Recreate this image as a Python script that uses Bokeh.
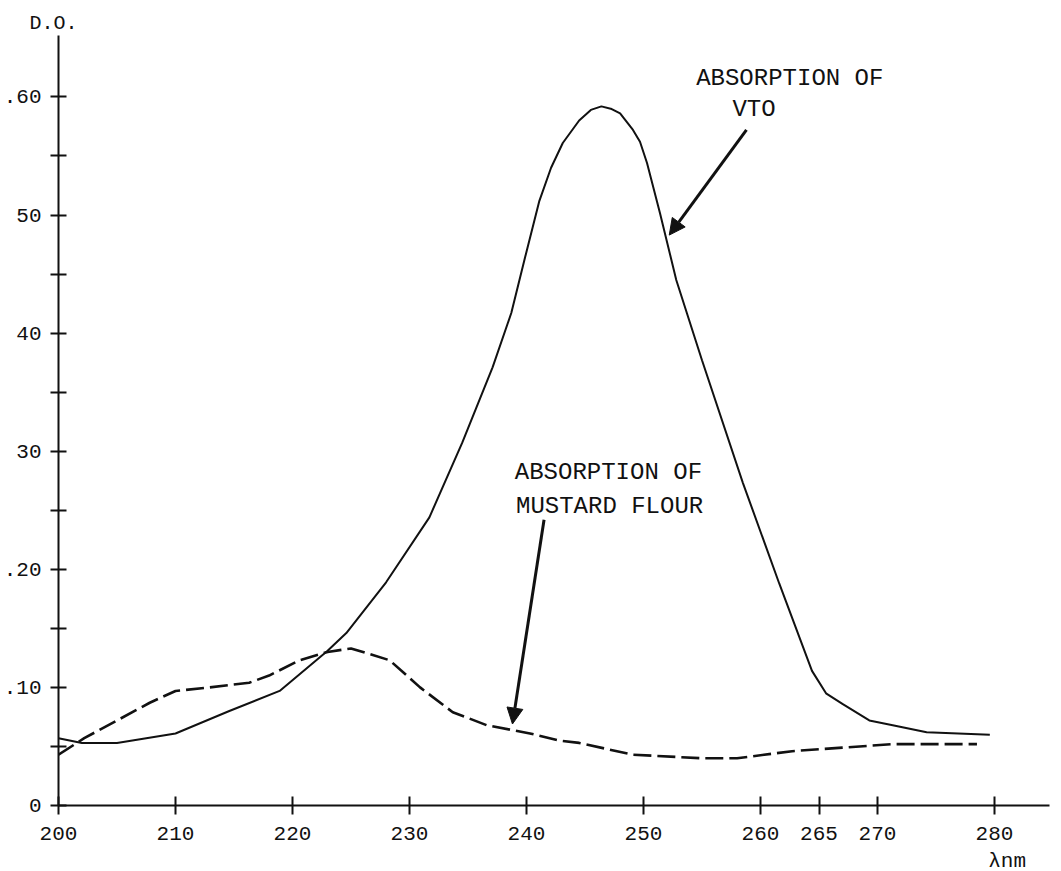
from bokeh.plotting import figure
from bokeh.models import FixedTicker, Range1d, Label, Arrow, NormalHead
from bokeh.embed import file_html
from bokeh.resources import INLINE

# ---- data ----
vto_nm = [200, 202, 205, 210, 214.6, 218.9, 223, 224.6, 228, 231.7, 234.5, 237.1,
          238.7, 239.9, 241.1, 242.1, 243.1, 244.5, 245.5, 246.4, 247.2, 248, 249.1, 249.7,
          250.3, 251.4, 252.8, 255, 258.5, 261.6, 264.4, 265.6, 267, 269.3, 271.3,
          274.2, 279.6]
vto_od = [0.057, 0.053, 0.053, 0.061, 0.080, 0.097, 0.131, 0.146, 0.189, 0.244, 0.307, 0.371,
          0.417, 0.465, 0.512, 0.540, 0.561, 0.580, 0.589, 0.592, 0.590, 0.586, 0.572, 0.562,
          0.544, 0.502, 0.445, 0.377, 0.273, 0.188, 0.114, 0.095, 0.086, 0.072, 0.068,
          0.062, 0.060]

mustard_nm = [200, 202.2, 205, 207.8, 210, 212.9, 216.3, 218, 220.6, 223, 225, 228.3,
              230.9, 233.7, 236.6, 240.3, 242.8, 244.5, 249.1, 255, 258, 262.7, 267,
              271.3, 278.5]
mustard_od = [0.043, 0.057, 0.072, 0.087, 0.097, 0.100, 0.104, 0.110, 0.123, 0.130, 0.133, 0.123,
              0.100, 0.079, 0.068, 0.061, 0.055, 0.053, 0.043, 0.040, 0.040, 0.046, 0.049,
              0.052, 0.052]

x_ticks = [200, 210, 220, 230, 240, 250, 260, 265, 270, 280]
x_labels = {280: "280\n\u00a0\u00a0λnm"}
y_major = [0, 0.1, 0.2, 0.3, 0.4, 0.5, 0.6]
y_minor = [0.05, 0.15, 0.25, 0.35, 0.45, 0.55]
y_labels = {0: "0", 0.1: ".10", 0.2: ".20", 0.3: "30", 0.4: "40", 0.5: "50", 0.6: ".60"}

y_title = "D.O."
vto_text = ["ABSORPTION OF", "VTO"]
mustard_text = ["ABSORPTION OF", "MUSTARD FLOUR"]
vto_arrow = (258.8, 0.572, 252.2, 0.483)
mustard_arrow = (241.5, 0.242, 238.8, 0.069)

FONT = "Liberation Mono"
INK = "#111111"

p = figure(frame_width=991, frame_height=770, output_backend="svg", toolbar_location=None,
           x_range=Range1d(200, 284.7), y_range=Range1d(0, 0.652),
           min_border_left=55, min_border_right=4, min_border_top=35, min_border_bottom=40,
           title=y_title)
p.background_fill_color = "white"
p.border_fill_color = "white"
p.outline_line_color = None
p.grid.visible = False

p.title.text_font = FONT
p.title.text_font_size = "20px"
p.title.text_font_style = "normal"
p.title.text_color = INK
p.title.align = "left"
p.title.offset = -29
p.title.standoff = 2

p.line(vto_nm, vto_od, line_color=INK, line_width=2)
p.line(mustard_nm, mustard_od, line_color=INK, line_width=2.6, line_dash="18 6")

for ax in (p.xaxis[0], p.yaxis[0]):
    ax.axis_line_color = INK
    ax.axis_line_width = 2
    ax.major_tick_line_color = INK
    ax.major_tick_line_width = 2
    ax.minor_tick_line_color = INK
    ax.minor_tick_line_width = 2
    ax.major_label_text_font = FONT
    ax.major_label_text_font_size = "21px"
    ax.major_label_text_color = INK

p.xaxis.ticker = FixedTicker(ticks=x_ticks, minor_ticks=[])
p.xaxis.major_tick_in = 9
p.xaxis.major_tick_out = 9
p.xaxis.major_label_standoff = 8
p.xaxis.major_label_overrides = x_labels

p.yaxis.ticker = FixedTicker(ticks=y_major, minor_ticks=y_minor)
p.yaxis.major_tick_in = 8
p.yaxis.major_tick_out = 8
p.yaxis.minor_tick_in = 8
p.yaxis.minor_tick_out = 8
p.yaxis.major_label_standoff = 9
p.yaxis.major_label_overrides = y_labels

def lab(x, y, t, align="left", size="24px"):
    p.add_layout(Label(x=x, y=y, text=t, text_font=FONT, text_font_size=size,
                       text_color=INK, text_align=align, text_baseline="middle"))

lab(254.5, 0.616, vto_text[0])
lab(257.6, 0.589, vto_text[1])
lab(239.0, 0.282, mustard_text[0])
lab(239.1, 0.253, mustard_text[1])

for (x0, y0, x1, y1) in (vto_arrow, mustard_arrow):
    p.add_layout(Arrow(x_start=x0, y_start=y0, x_end=x1, y_end=y1,
                       line_color=INK, line_width=3,
                       end=NormalHead(size=16, fill_color=INK, line_color=INK)))

open("out.html", "w").write(file_html(p, INLINE))
